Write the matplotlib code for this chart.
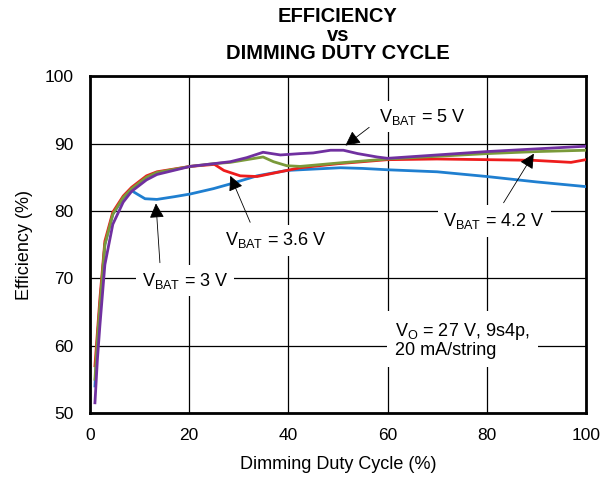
import matplotlib
matplotlib.use('Agg')
import matplotlib.pyplot as plt

plt.rcParams['font.family'] = ['Liberation Sans', 'DejaVu Sans']
plt.rcParams['mathtext.fontset'] = 'custom'
plt.rcParams['mathtext.rm'] = 'Liberation Sans'
plt.rcParams['mathtext.it'] = 'Liberation Sans:italic'

# duty cycle (%) and efficiency (%)
x_3v = [1, 1.5, 2, 3, 4.6, 6.7, 8.4, 9.5, 11.1, 13.5, 17, 20.2, 24.9, 28.3, 33.7, 39.7, 45, 50.5, 55, 60, 70, 80, 90, 100]
y_3v = [54, 61, 66, 75, 79.5, 81.9, 83.0, 82.5, 81.8, 81.7, 82.1, 82.5, 83.3, 84.0, 85.2, 86.0, 86.2, 86.4, 86.3, 86.1, 85.8, 85.1, 84.3, 83.6]

x_36v = [1, 1.5, 2, 3, 4.6, 6.7, 8.4, 11.4, 13.5, 20.2, 25.1, 27, 30.3, 33.7, 39.7, 42.4, 50, 60, 70, 80, 89.5, 97, 100]
y_36v = [57, 62, 67, 75.5, 79.8, 82.2, 83.5, 85.2, 85.8, 86.6, 86.9, 86.0, 85.2, 85.1, 86.0, 86.4, 87.0, 87.6, 87.7, 87.6, 87.5, 87.2, 87.6]

x_42v = [1, 1.5, 2, 3, 4.6, 6.7, 8.4, 11.4, 13.5, 20.2, 24.9, 28.3, 31.6, 34.9, 37, 39.7, 42.4, 50, 60, 70, 80, 90, 100]
y_42v = [55, 61, 66, 75, 79.5, 82.0, 83.3, 85.0, 85.7, 86.6, 87.0, 87.2, 87.6, 88.0, 87.3, 86.7, 86.6, 87.1, 87.7, 88.1, 88.5, 88.8, 89.0]

x_5v = [1, 1.5, 2, 3, 4.6, 6.7, 8.4, 11.4, 13.5, 20.2, 24.9, 28.3, 31.6, 34.9, 38.4, 42.4, 45, 48.5, 51.1, 54, 57.9, 60, 70, 80, 90, 100]
y_5v = [51.5, 58, 63, 72, 78, 81.3, 82.9, 84.6, 85.4, 86.6, 87.0, 87.3, 87.9, 88.7, 88.3, 88.5, 88.6, 89.0, 89.0, 88.5, 88.0, 87.8, 88.3, 88.8, 89.2, 89.6]

fig = plt.figure(figsize=(6.13, 4.79), dpi=100)
ax = fig.add_axes([0.1468, 0.138, 0.809, 0.703])

ax.plot(x_3v, y_3v, color='#1f7fd0', lw=2, zorder=3)
ax.plot(x_36v, y_36v, color='#ee1c1c', lw=2, zorder=4)
ax.plot(x_42v, y_42v, color='#7a9a3a', lw=2, zorder=5)
ax.plot(x_5v, y_5v, color='#7030a0', lw=2, zorder=6)

ax.set_xlim(0, 100)
ax.set_ylim(50, 100)
ax.set_xticks([0, 20, 40, 60, 80, 100])
ax.set_yticks([50, 60, 70, 80, 90, 100])
ax.grid(True, color='black', lw=0.9)
ax.set_axisbelow(True)
ax.tick_params(length=0, labelsize=12.5)
ax.tick_params(axis='x', pad=11)
ax.tick_params(axis='y', pad=12)
for s in ax.spines.values():
    s.set_linewidth(2)

ax.set_xlabel('Dimming Duty Cycle (%)', fontsize=13, labelpad=9)
ax.set_ylabel('Efficiency (%)', fontsize=13, labelpad=8)
ax.set_title('EFFICIENCY\nvs\nDIMMING DUTY CYCLE', fontsize=14.5, fontweight='bold', linespacing=0.98, pad=12)

arrow = dict(arrowstyle='-|>,head_length=0.9,head_width=0.45', color='black', lw=0.6, shrinkA=0, shrinkB=0)
box = dict(facecolor='white', edgecolor='none', pad=4)
notes = [
    (r'V$_{\mathrm{BAT}}$ = 5 V', (51.5, 89.7), (67, 94.0), (56.3, 92.4)),
    (r'V$_{\mathrm{BAT}}$ = 4.2 V', (89.5, 88.5), (81.5, 78.5), (83.4, 81.2)),
    (r'V$_{\mathrm{BAT}}$ = 3.6 V', (28.3, 85.2), (37.5, 75.6), (32.3, 78.3)),
    (r'V$_{\mathrm{BAT}}$ = 3 V', (13.3, 81.1), (19.2, 69.6), (14.1, 72.3)),
]
for txt, tip, pos, tail in notes:
    ax.annotate('', xy=tip, xytext=tail, arrowprops=arrow, zorder=8)
    ax.text(pos[0], pos[1], txt, fontsize=13, ha='center', va='center', bbox=box, zorder=7)

ax.text(61.6, 60.8, 'V$_{\\mathrm{O}}$ = 27 V, 9s4p,\n20 mA/string', fontsize=13,
        ha='left', va='center', linespacing=1.0, bbox=dict(facecolor='white', edgecolor='none', pad=6), zorder=7)

fig.savefig('out.png', dpi=100)
